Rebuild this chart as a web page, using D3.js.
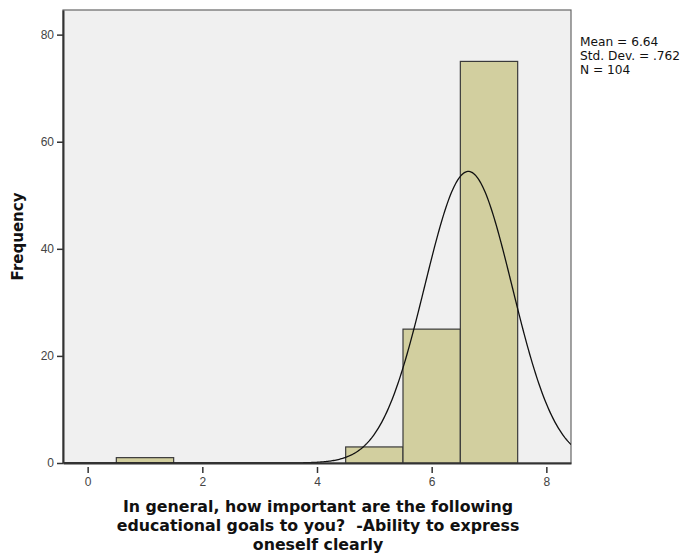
<!DOCTYPE html>
<html lang="en">
<head>
    <meta charset="UTF-8">
    <title>Histogram</title>
    <script src="https://d3js.org/d3.v7.min.js"></script>
    <style>
        body { margin: 0; background: #fff; }
    </style>
</head>
<body>

<div id="my_dataviz"></div>

<script>
    // histogram bins (value centres) and counts
    var binCenters = [1, 5, 6, 7];
    var binCounts = [1, 3, 25, 75];
    var xTicks = [0, 2, 4, 6, 8];
    var yTicks = [0, 20, 40, 60, 80];
    var stats = {mean: 6.64, sd: 0.762, n: 104};
    var statLines = ["Mean = 6.64", "Std. Dev. = .762", "N = 104"];
    var titleLines = ["In general, how important are the following",
                      "educational goals to you?  -Ability to express",
                      "oneself clearly"];

    var W = 686, H = 555;
    var margin = {top: 10, right: 115, bottom: 92, left: 63},
        width = W - margin.left - margin.right,
        height = H - margin.top - margin.bottom;

    var svg = d3.select("#my_dataviz").append("svg")
        .attr("width", W)
        .attr("height", H)
        .style("font-family", "'DejaVu Sans', sans-serif");

    var g = svg.append("g")
        .attr("transform", "translate(" + margin.left + "," + margin.top + ")");

    var x = d3.scaleLinear().domain([-0.43, 8.43]).range([0, width]);
    var y = d3.scaleLinear().domain([0, 84.6]).range([height, 0]);

    // plot background
    g.append("rect")
        .attr("width", width).attr("height", height)
        .attr("fill", "#f0f0f0")
        .attr("stroke", "#666").attr("stroke-width", 1.2);

    g.append("clipPath").attr("id", "clip")
        .append("rect").attr("width", width).attr("height", height);

    // bars
    g.selectAll(".bar")
        .data(binCenters)
        .enter().append("rect")
        .attr("x", function(d) { return x(d - 0.5); })
        .attr("y", function(d, i) { return y(binCounts[i]); })
        .attr("width", function(d) { return x(d + 0.5) - x(d - 0.5); })
        .attr("height", function(d, i) { return y(0) - y(binCounts[i]); })
        .attr("fill", "#d2cf9f")
        .attr("stroke", "#3a3a3a")
        .attr("stroke-width", 1.2);

    // normal curve
    var curve = d3.range(-0.43, 8.44, 0.02).map(function(v) {
        var z = (v - stats.mean) / stats.sd;
        return {x: v, y: stats.n / (stats.sd * Math.sqrt(2 * Math.PI)) * Math.exp(-0.5 * z * z)};
    });
    g.append("path")
        .datum(curve)
        .attr("clip-path", "url(#clip)")
        .attr("fill", "none")
        .attr("stroke", "#111")
        .attr("stroke-width", 1.3)
        .attr("d", d3.line().x(function(d) { return x(d.x); }).y(function(d) { return y(d.y); }));

    // axes
    var xAxis = g.append("g")
        .attr("transform", "translate(0," + height + ")")
        .call(d3.axisBottom(x).tickValues(xTicks).tickSize(6).tickSizeOuter(0));
    var yAxis = g.append("g")
        .call(d3.axisLeft(y).tickValues(yTicks).tickSize(6).tickSizeOuter(0));

    [xAxis, yAxis].forEach(function(a) {
        a.select(".domain").attr("stroke", "#333").attr("stroke-width", 2);
        a.selectAll(".tick line").attr("stroke", "#333").attr("stroke-width", 1.5);
        a.selectAll(".tick text").attr("fill", "#444").style("font-size", "12px");
    });
    xAxis.selectAll(".tick text").attr("dy", "1.2em");
    xAxis.selectAll(".tick line").attr("y1", 4).attr("y2", 10);

    // y axis title
    svg.append("text")
        .attr("transform", "translate(23," + (margin.top + height / 2) + ") rotate(-90)")
        .attr("text-anchor", "middle")
        .style("font-weight", "bold")
        .style("font-size", "15px")
        .attr("fill", "#111")
        .text("Frequency");

    // x axis title
    svg.append("g").selectAll("text")
        .data(titleLines)
        .enter().append("text")
        .attr("x", 318)
        .attr("y", function(d, i) { return 512 + i * 19; })
        .attr("text-anchor", "middle")
        .style("white-space", "pre")
        .style("font-weight", "bold")
        .style("font-size", "15.8px")
        .attr("fill", "#111")
        .text(function(d) { return d; });

    // stats box
    svg.append("g").selectAll("text")
        .data(statLines)
        .enter().append("text")
        .attr("x", 580)
        .attr("y", function(d, i) { return 46 + i * 14; })
        .style("font-size", "12.2px")
        .attr("fill", "#111")
        .text(function(d) { return d; });
</script>

</body>
</html>
